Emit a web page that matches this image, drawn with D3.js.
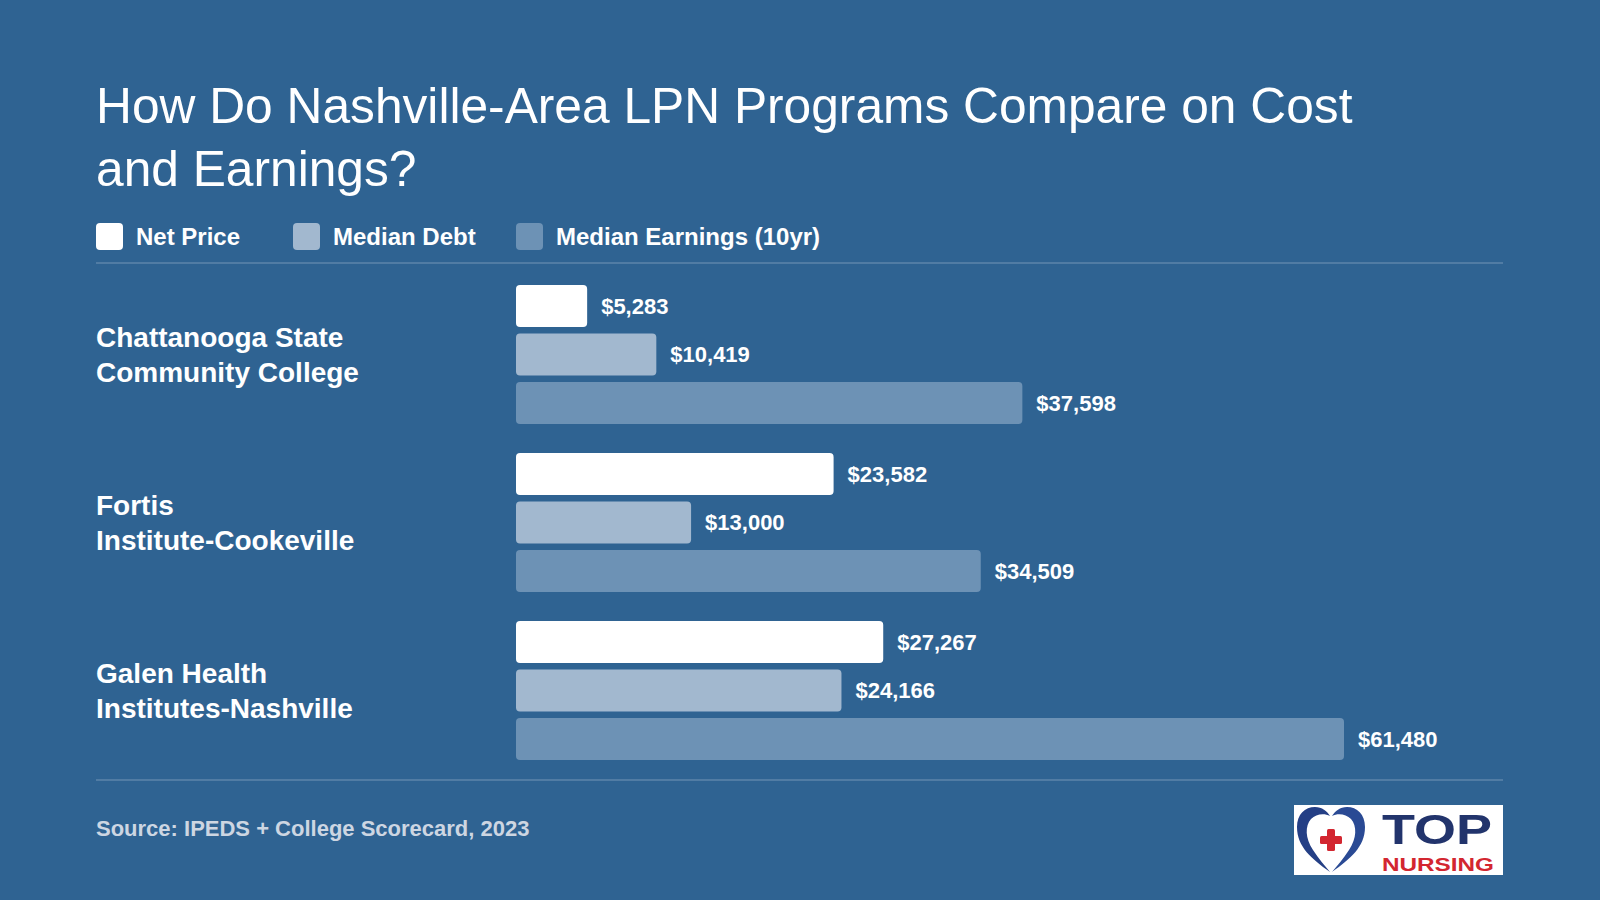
<!DOCTYPE html>
<html>
<head>
<meta charset="utf-8">
<script src="https://cdn.jsdelivr.net/npm/d3@7"></script>
<style>
  html, body { margin: 0; padding: 0; background: #2f6392; }
  svg { display: block; font-family: "Liberation Sans", Arial, Helvetica, sans-serif; }
</style>
</head>
<body>
<div id="chart"></div>
<script>
const width = 1600;
const height = 900;

// data
const programs = ["Chattanooga State Community College", "Fortis Institute-Cookeville", "Galen Health Institutes-Nashville"];
const seriesNames = ["Net Price", "Median Debt", "Median Earnings (10yr)"];
const netPrice = [5283, 23582, 27267];
const medianDebt = [10419, 13000, 24166];
const medianEarnings = [37598, 34509, 61480];
const titleLines = ["How Do Nashville-Area LPN Programs Compare on Cost", "and Earnings?"];
const sourceText = "Source: IPEDS + College Scorecard, 2023";

const seriesValues = [netPrice, medianDebt, medianEarnings];
const colors = ["#ffffff", "#a2b8cf", "#6d92b5"];

const svg = d3.select("#chart").append("svg")
  .attr("width", width)
  .attr("height", height);

svg.append("rect").attr("width", width).attr("height", height).attr("fill", "#2f6392");

// title
svg.selectAll("text.title")
  .data(titleLines)
  .join("text")
  .attr("class", "title")
  .attr("x", 96)
  .attr("y", (d, i) => 123 + i * 63)
  .attr("fill", "#fff")
  .attr("font-size", 49.7)
  .text(d => d);

// legend
const legendX = [96, 293, 516];
const legend = svg.selectAll("g.legend")
  .data(seriesNames)
  .join("g")
  .attr("class", "legend")
  .attr("transform", (d, i) => `translate(${legendX[i]}, 223)`);
legend.append("rect")
  .attr("width", 27).attr("height", 27).attr("rx", 4)
  .attr("fill", (d, i) => colors[i]);
legend.append("text")
  .attr("x", 40).attr("y", 13.5).attr("dy", "0.35em")
  .attr("fill", "#fff").attr("font-weight", "bold").attr("font-size", 24)
  .text(d => d);

// dividers
svg.selectAll("line.divider")
  .data([263, 780])
  .join("line")
  .attr("x1", 96).attr("x2", 1503)
  .attr("y1", d => d).attr("y2", d => d)
  .attr("stroke", "rgba(255,255,255,0.22)")
  .attr("stroke-width", 1.5);

// scales
const maxVal = d3.max(seriesValues.flat());
const x = d3.scaleLinear().domain([0, maxVal]).range([516, 1344]);
const y0 = d3.scaleBand().domain(programs).range([285, 760]).paddingInner(0.1726).paddingOuter(0);
const y1 = d3.scaleBand().domain(seriesNames).range([0, y0.bandwidth()]).paddingInner(0.134);

const fmt = d3.format("$,");

const groups = svg.selectAll("g.group")
  .data(programs)
  .join("g")
  .attr("class", "group")
  .attr("transform", d => `translate(0, ${y0(d)})`);

groups.each(function(p, pi) {
  const g = d3.select(this);
  const rows = seriesNames.map((s, si) => ({ s, si, v: seriesValues[si][pi] }));
  g.selectAll("rect")
    .data(rows)
    .join("rect")
    .attr("x", x(0))
    .attr("y", d => y1(d.s))
    .attr("width", d => x(d.v) - x(0))
    .attr("height", y1.bandwidth())
    .attr("rx", 4)
    .attr("fill", d => colors[d.si]);
  g.selectAll("text.val")
    .data(rows)
    .join("text")
    .attr("class", "val")
    .attr("x", d => x(d.v) + 14)
    .attr("y", d => y1(d.s) + y1.bandwidth() / 2)
    .attr("dy", "0.35em")
    .attr("fill", "#fff").attr("font-weight", "bold").attr("font-size", 22)
    .text(d => fmt(d.v));

  // wrapped category label
  const label = g.append("text")
    .attr("x", 96)
    .attr("fill", "#fff").attr("font-weight", "bold").attr("font-size", 28);
  const words = p.split(" ");
  const lines = [];
  let line = [];
  const probe = label.append("tspan");
  words.forEach(w => {
    const test = line.concat(w).join(" ");
    probe.text(test);
    if (probe.node().getComputedTextLength() > 300 && line.length) {
      lines.push(line.join(" "));
      line = [w];
    } else {
      line.push(w);
    }
  });
  lines.push(line.join(" "));
  probe.remove();
  const lh = 35;
  const mid = y0.bandwidth() / 2;
  label.selectAll("tspan")
    .data(lines)
    .join("tspan")
    .attr("x", 96)
    .attr("y", (d, i) => mid + (i - (lines.length - 1) / 2) * lh)
    .attr("dy", "0.35em")
    .text(d => d);
});

// source
svg.append("text")
  .attr("x", 96).attr("y", 828).attr("dy", "0.35em")
  .attr("fill", "#cdd6e2").attr("font-weight", "bold").attr("font-size", 22)
  .text(sourceText);

// logo
const logo = svg.append("g").attr("transform", "translate(1294, 805)");
logo.append("rect").attr("width", 209).attr("height", 70).attr("fill", "#fff");
// heart made of two crescent halves
logo.append("path")
  .attr("d", "M36,67 C18,54 3,42 3,22 C3,9 11,2 21,2 C28,2 33,6 36,11 C30,8 22,9 17,14 C11,21 11,33 19,45 C25,54 31,61 36,67 Z")
  .attr("fill", "#243f85");
logo.append("path")
  .attr("d", "M38,67 C56,54 71,42 71,22 C71,9 63,2 53,2 C46,2 41,6 38,11 C44,8 52,9 57,14 C63,21 63,33 55,45 C49,54 43,61 38,67 Z")
  .attr("fill", "#2a4a94");
// red cross
logo.append("rect").attr("x", 33).attr("y", 24).attr("width", 8).attr("height", 22).attr("rx", 1.5).attr("fill", "#d32630");
logo.append("rect").attr("x", 26).attr("y", 31).attr("width", 22).attr("height", 8).attr("rx", 1.5).attr("fill", "#d32630");
logo.append("text")
  .attr("x", 88).attr("y", 39)
  .attr("fill", "#22346c").attr("font-size", 43).attr("font-weight", "bold")
  .attr("textLength", 110).attr("lengthAdjust", "spacingAndGlyphs")
  .text("TOP");
logo.append("text")
  .attr("x", 88).attr("y", 66)
  .attr("fill", "#d32630").attr("font-size", 18).attr("font-weight", "bold")
  .attr("textLength", 112).attr("lengthAdjust", "spacingAndGlyphs")
  .text("NURSING");
</script>
</body>
</html>
